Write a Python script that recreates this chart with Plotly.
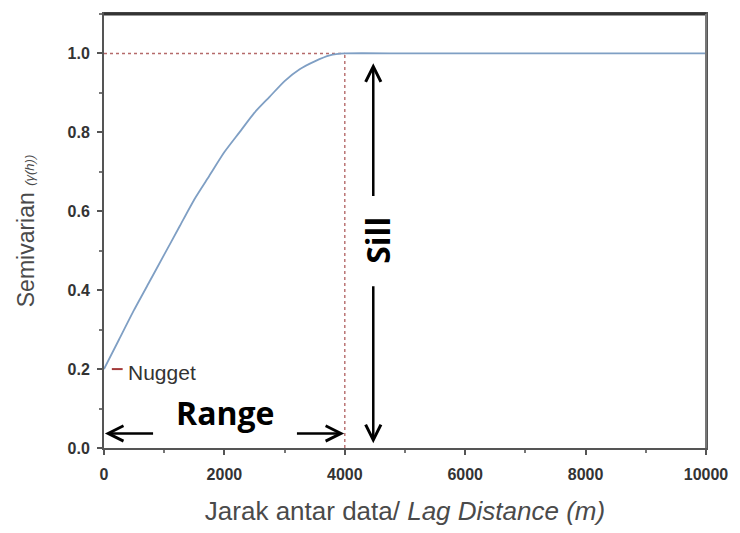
import plotly.graph_objects as go

# Semivariogram curve (lag distance in m, semivariance)
lag = [0, 250, 500, 750, 1000, 1250, 1500, 1750, 2000, 2250, 2500, 2750,
       3000, 3250, 3500, 3750, 4000, 5000, 6000, 7000, 8000, 9000, 10000]
gamma = [0.20, 0.275, 0.35, 0.42, 0.49, 0.56, 0.63, 0.69, 0.75, 0.80, 0.85, 0.89,
         0.93, 0.96, 0.98, 0.995, 1.00, 1.00, 1.00, 1.00, 1.00, 1.00, 1.00]

nugget = 0.2
sill = 1.0
range_m = 4000

x_ticks = [0, 2000, 4000, 6000, 8000, 10000]
y_ticks = [0.0, 0.2, 0.4, 0.6, 0.8, 1.0]

fig = go.Figure()

# Sill/range guide lines (dotted)
fig.add_trace(go.Scatter(x=[0, range_m], y=[sill, sill], mode="lines",
                         line=dict(color="#b56a6a", width=1.4, dash="dot"),
                         hoverinfo="skip", showlegend=False))
fig.add_trace(go.Scatter(x=[range_m, range_m], y=[0, sill], mode="lines",
                         line=dict(color="#b56a6a", width=1.4, dash="dot"),
                         hoverinfo="skip", showlegend=False))

# Model curve
fig.add_trace(go.Scatter(x=lag, y=gamma, mode="lines",
                         line=dict(color="#7f9fc4", width=1.8, shape="spline", smoothing=0.6),
                         showlegend=False))

# Nugget marker
fig.add_trace(go.Scatter(x=[130, 310], y=[nugget, nugget], mode="lines",
                         line=dict(color="#a33a3a", width=2),
                         hoverinfo="skip", showlegend=False))

fig.add_annotation(x=370, y=nugget - 0.008, text="Nugget", showarrow=False,
                   xanchor="left", yanchor="middle",
                   font=dict(family="Liberation Sans, Arial", size=21, color="#333333"))

# Range label and arrows
fig.add_annotation(x=2010, y=0.09, text="<b>Range</b>", showarrow=False,
                   font=dict(family="Open Sans, Liberation Sans", size=32, color="#000000"))
fig.add_annotation(x=15, y=0.037, ax=840, ay=0.037, xref="x", yref="y",
                   axref="x", ayref="y", text="", showarrow=True,
                   arrowhead=5, arrowsize=1.2, arrowwidth=2.5, arrowcolor="#000000")
fig.add_annotation(x=3990, y=0.037, ax=3180, ay=0.037, xref="x", yref="y",
                   axref="x", ayref="y", text="", showarrow=True,
                   arrowhead=5, arrowsize=1.2, arrowwidth=2.5, arrowcolor="#000000")

# Sill label and arrows
fig.add_annotation(x=4540, y=0.526, text="<b>Sill</b>", showarrow=False, textangle=-90,
                   font=dict(family="Open Sans, Liberation Sans", size=32, color="#000000"))
fig.add_annotation(x=4473, y=0.975, ax=4473, ay=0.635, xref="x", yref="y",
                   axref="x", ayref="y", text="", showarrow=True,
                   arrowhead=5, arrowsize=1.2, arrowwidth=2.5, arrowcolor="#000000")
fig.add_annotation(x=4473, y=0.012, ax=4473, ay=0.414, xref="x", yref="y",
                   axref="x", ayref="y", text="", showarrow=True,
                   arrowhead=5, arrowsize=1.2, arrowwidth=2.5, arrowcolor="#000000")

# Plot frame (top and right edges)
fig.add_shape(type="line", xref="paper", yref="paper", x0=0, x1=1, y0=1, y1=1,
              line=dict(color="#333333", width=3), layer="above")
fig.add_shape(type="line", xref="paper", yref="paper", x0=1, x1=1, y0=0, y1=1,
              line=dict(color="#777777", width=2), layer="above")

axis_common = dict(showgrid=False, zeroline=False, showline=True, mirror=True,
                   linecolor="#555555", linewidth=2, ticks="outside", ticklen=5,
                   tickwidth=1.5, tickcolor="#555555",
                   tickfont=dict(family="Liberation Sans, Arial", size=16,
                                 color="#333333", weight="bold"))

fig.update_xaxes(range=[0, 10000], tickvals=x_ticks,
                 ticktext=[str(v) for v in x_ticks],
                 minor=dict(dtick=1000, ticks="outside", ticklen=3, tickcolor="#777777"),
                 title=dict(text="Jarak antar data/ <i>Lag Distance (m)</i>",
                            font=dict(family="Liberation Sans, Arial", size=26, color="#4a4a4a"),
                            standoff=20),
                 ticklabelstandoff=6,
                 **axis_common)
fig.update_yaxes(range=[0, 1.1], tickvals=y_ticks,
                 ticktext=[f"{v:.1f}" for v in y_ticks],
                 minor=dict(dtick=0.1, ticks="outside", ticklen=3, tickcolor="#777777"),
                 title=dict(text="Semivarian <span style='font-size:13px'><i>(γ(h))</i></span>",
                            font=dict(family="Liberation Sans, Arial", size=23, color="#4a4a4a"),
                            standoff=26),
                 ticklabelstandoff=4,
                 **axis_common)

fig.update_layout(width=740, height=533,
                  margin=dict(l=104, r=26, t=14, b=82),
                  paper_bgcolor="white", plot_bgcolor="white",
                  showlegend=False)

fig.write_html("out.html", config={"displayModeBar": False},
               post_script="document.body.style.margin='0px';document.body.style.padding='0px';")
